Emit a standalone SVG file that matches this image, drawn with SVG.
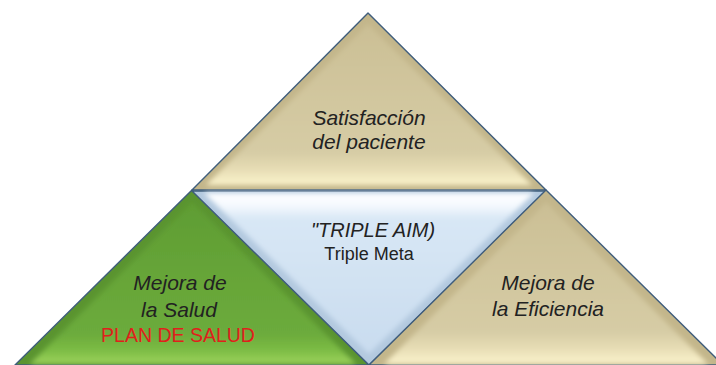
<svg xmlns="http://www.w3.org/2000/svg" width="716" height="365" viewBox="0 0 716 365">
<defs>
<linearGradient id="gTan" x1="0" y1="0" x2="0" y2="1">
<stop offset="0" stop-color="#cbbf95"/>
<stop offset="0.8" stop-color="#d6cca5"/>
<stop offset="0.9" stop-color="#e6dcb4"/>
<stop offset="1" stop-color="#fbf3cc"/>
</linearGradient>
<linearGradient id="gGreen" x1="0" y1="0" x2="0" y2="1">
<stop offset="0" stop-color="#5f9d33"/>
<stop offset="0.82" stop-color="#6cab3c"/>
<stop offset="0.92" stop-color="#7dbd45"/>
<stop offset="1" stop-color="#9ed35c"/>
</linearGradient>
<linearGradient id="gBlue" x1="0" y1="0" x2="0" y2="1">
<stop offset="0" stop-color="#ffffff"/>
<stop offset="0.08" stop-color="#f4f9fe"/>
<stop offset="0.16" stop-color="#d8e7f5"/>
<stop offset="1" stop-color="#c9dcef"/>
</linearGradient>
<filter id="soft" x="-10%" y="-10%" width="120%" height="120%">
<feGaussianBlur stdDeviation="2.5"/>
</filter>
</defs>
<style>
.edge{stroke:#3f5d7c;stroke-width:1.4;stroke-linejoin:round}
.t{font-family:"Liberation Sans",Arial,sans-serif;fill:#222;text-anchor:middle}
.i{font-style:italic;font-size:21px}
.red{fill:#e0201c;font-size:19.5px}
.sub{font-size:18px}
.aim{font-size:20px}
</style>
<rect width="716" height="365" fill="#ffffff"/>
<g id="top">
<polygon points="368,13 192,190 546,190" fill="#c3b68b" class="edge"/>
<polygon points="368,24 206,185 532,185" fill="url(#gTan)" filter="url(#soft)"/>
<text class="t i" x="369" y="125">Satisfacción</text>
<text class="t i" x="369" y="149">del paciente</text>
</g>
<g id="left">
<polygon points="192,190 15,365 369,365" fill="#5a9430" class="edge"/>
<polygon points="192,202 30,364 356,364" fill="url(#gGreen)" filter="url(#soft)"/>
<text class="t i" x="180" y="290">Mejora de</text>
<text class="t i" x="179" y="317">la Salud</text>
<text class="t red" x="178" y="342">PLAN DE SALUD</text>
</g>
<g id="middle">
<polygon points="192,191 546,191 369,365" fill="#b3c9df" class="edge"/>
<polygon points="204,193 534,193 369,354" fill="url(#gBlue)" filter="url(#soft)"/>
<text class="t i aim" x="373" y="237">"TRIPLE AIM)</text>
<text class="t sub" x="369" y="260">Triple Meta</text>
</g>
<g id="right">
<polygon points="546,190 369,365 723,365" fill="#c3b68b" class="edge"/>
<polygon points="546,202 384,364 708,364" fill="url(#gTan)" filter="url(#soft)"/>
<text class="t i" x="548" y="290">Mejora de</text>
<text class="t i" x="548" y="316">la Eficiencia</text>
</g>
<g id="connectors"/>
</svg>
